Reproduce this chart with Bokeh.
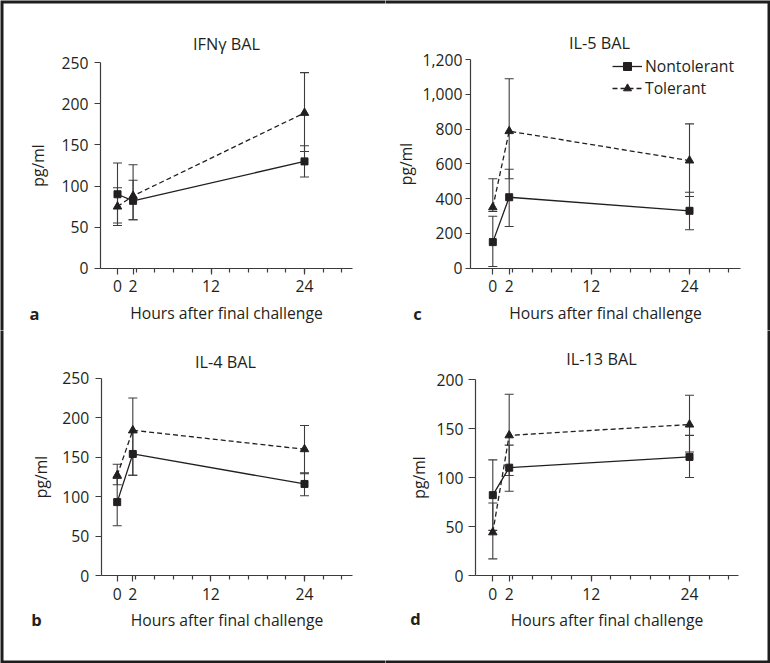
from bokeh.plotting import figure
from bokeh.layouts import gridplot
from bokeh.models import (ColumnDataSource, FixedTicker, Whisker, TeeHead, Label,
                          Legend, LegendItem, NumeralTickFormatter, BoxAnnotation, Range1d)
from bokeh.embed import file_html
from bokeh.resources import INLINE

# ---------------- data ----------------
hours = [0, 2, 24]
x_major_ticks = [0, 2, 12, 24]
x_minor_ticks = [2.4, 4.8, 7.2, 9.6, 12, 14.4, 16.8, 19.2, 21.6, 24, 26.4, 28.8]
x_label = "Hours after final challenge"
y_label = "pg/ml"
series_names = ["Nontolerant", "Tolerant"]

# IFN-gamma BAL (panel a)
ifn_non = [90, 82, 130]
ifn_non_lo = [52, 59, 111]
ifn_non_hi = [128, 107, 149]
ifn_tol = [75, 88, 189]
ifn_tol_lo = [55, 59, 142]
ifn_tol_hi = [98, 126, 238]
ifn_yticks = [0, 50, 100, 150, 200, 250]

# IL-5 BAL (panel c)
il5_non = [150, 408, 330]
il5_non_lo = [10, 240, 221]
il5_non_hi = [299, 569, 437]
il5_tol = [350, 788, 619]
il5_tol_lo = [326, 514, 412]
il5_tol_hi = [514, 1089, 830]
il5_yticks = [0, 200, 400, 600, 800, 1000, 1200]

# IL-4 BAL (panel b)
il4_non = [93, 154, 116]
il4_non_lo = [63, 127, 101]
il4_non_hi = [123, 181, 130]
il4_tol = [127, 184, 160]
il4_tol_lo = [115, 127, 129]
il4_tol_hi = [141, 225, 190]
il4_yticks = [0, 50, 100, 150, 200, 250]

# IL-13 BAL (panel d)
il13_non = [82, 110, 121]
il13_non_lo = [46, 86, 100]
il13_non_hi = [118, 133, 143]
il13_tol = [44, 143, 154]
il13_tol_lo = [17, 102, 126]
il13_tol_hi = [74, 185, 184]
il13_yticks = [0, 50, 100, 150, 200]

# ---------------- styling ----------------
FONT = "Open Sans"
INK = "#231f20"
AXIS = "#3c3c3c"
FS = "15.7px"
BORDER = "#1e1e1e"


def make_panel(title, letter, non, non_lo, non_hi, tol, tol_lo, tol_hi, yticks, geo,
               comma=False, legend=False):
    # geo: canvas size and pixel anchors of the panel (layout only)
    w, h = geo["size"]
    x0px, x24px = geo["x0"], geo["x24"]          # pixel columns of hour 0 and hour 24
    y0px, ytpx = geo["y0"], geo["ytop"]          # pixel rows of value 0 and top tick
    kx = (x24px - x0px) / 24.0
    ky = (y0px - ytpx) / float(yticks[-1])

    def dx(px):
        return (px - x0px) / kx

    def dy(py):
        return (y0px - py) / ky

    xs, xe = dx(0), dx(w)
    ys, ye = dy(h), dy(0)
    p = figure(width=w, height=h, x_range=Range1d(xs, xe), y_range=Range1d(ys, ye),
               output_backend="svg", toolbar_location=None,
               min_border_left=0, min_border_right=0,
               min_border_top=0, min_border_bottom=0)
    p.outline_line_color = None
    p.xgrid.visible = False
    p.ygrid.visible = False
    p.background_fill_color = "white"
    p.border_fill_color = "white"

    yaxis_x = dx(geo["yaxis"])
    xaxis_end = dx(geo["xend"])

    # x axis
    xa = p.xaxis[0]
    xa.fixed_location = 0
    xa.bounds = (yaxis_x, xaxis_end)
    xa.ticker = FixedTicker(ticks=x_major_ticks, minor_ticks=x_minor_ticks)
    xa.major_tick_in = 0
    xa.major_tick_out = 6
    xa.minor_tick_in = 0
    xa.minor_tick_out = 4
    xa.major_label_standoff = 6
    xa.axis_label = x_label
    xa.axis_label_standoff = 6

    # y axis
    ya = p.yaxis[0]
    ya.fixed_location = yaxis_x
    ya.bounds = (yticks[0], yticks[-1])
    ya.ticker = FixedTicker(ticks=yticks)
    ya.major_tick_in = 0
    ya.major_tick_out = geo["ytick"]
    ya.minor_tick_in = 0
    ya.minor_tick_out = 0
    ya.major_label_standoff = geo["ystand"]
    ya.axis_label = y_label
    ya.axis_label_standoff = geo["ylabstand"]
    if comma:
        ya.formatter = NumeralTickFormatter(format="0,0")

    for ax in (xa, ya):
        ax.axis_line_color = AXIS
        ax.axis_line_width = 1.2
        ax.major_tick_line_color = AXIS
        ax.major_tick_line_width = 1.2
        ax.minor_tick_line_color = AXIS
        ax.minor_tick_line_width = 1.2
        ax.major_label_text_font = FONT
        ax.major_label_text_font_size = FS
        ax.major_label_text_color = INK
        ax.axis_label_text_font = FONT
        ax.axis_label_text_font_size = FS
        ax.axis_label_text_font_style = "normal"
        ax.axis_label_text_color = INK

    # panel title and letter
    tx, ty = geo["title"]
    p.add_layout(Label(x=dx(tx), y=dy(ty), text=title, text_font=FONT,
                       text_font_size="16.3px", text_color=INK,
                       text_align="center", text_baseline="middle"))
    lx, ly = geo["letter"]
    p.add_layout(Label(x=dx(lx), y=dy(ly), text=letter, text_font=FONT,
                       text_font_size="16.5px", text_font_style="bold", text_color=INK,
                       text_align="center", text_baseline="middle"))

    # error bars
    for lo, hi in ((non_lo, non_hi), (tol_lo, tol_hi)):
        src = ColumnDataSource(dict(x=hours, lo=lo, hi=hi))
        wk = Whisker(source=src, base="x", lower="lo", upper="hi",
                     line_color=AXIS, line_width=1.1, level="underlay",
                     lower_head=TeeHead(size=9, line_color=AXIS, line_width=1.1),
                     upper_head=TeeHead(size=9, line_color=AXIS, line_width=1.1))
        p.add_layout(wk)

    l1 = p.line(hours, non, line_color=INK, line_width=1.3)
    s1 = p.scatter(hours, non, marker="square", size=7, fill_color=INK, line_color=INK)
    l2 = p.line(hours, tol, line_color=INK, line_width=1.3, line_dash="5 3")
    s2 = p.scatter(hours, tol, marker="triangle", size=8.5, fill_color=INK, line_color=INK)

    if legend:
        gx, gy1 = geo["legend"]
        lg = Legend(items=[LegendItem(label=series_names[0], renderers=[l1, s1]),
                           LegendItem(label=series_names[1], renderers=[l2, s2])],
                    location=(gx, h - (gy1 - 11) - 44), padding=0, margin=0, spacing=0,
                    glyph_width=30, glyph_height=20, label_height=20, label_standoff=3,
                    background_fill_alpha=0, border_line_color=None,
                    label_text_font=FONT, label_text_font_size="15.7px",
                    label_text_color=INK)
        p.add_layout(lg)

    # outer page border (only on the outside edges of the 2x2 block)
    far = 1e5
    sides = geo["border"]
    p.add_layout(BoxAnnotation(
        left=xs if "l" in sides else xs - far,
        right=xe if "r" in sides else xe + far,
        top=ye if "t" in sides else ye + far,
        bottom=ys if "b" in sides else ys - far,
        fill_color=None, line_color=BORDER, line_alpha=1.0, line_width=6,
        level="overlay"))
    return p


geo_a = dict(size=(385, 330), x0=117, x24=304, y0=267.7, ytop=62.3, yaxis=100, xend=352,
             ytick=6, ystand=6, ylabstand=10, title=(226, 43), letter=(34, 313), border="lt")
geo_c = dict(size=(385, 330), x0=107.3, x24=304, y0=267.7, ytop=59, yaxis=85, xend=355,
             ytick=5, ystand=3, ylabstand=3, title=(214, 42), letter=(32, 313), border="tr",
             legend=(227, 65.7))
geo_b = dict(size=(385, 333), x0=116.7, x24=304, y0=245, ytop=47.7, yaxis=100.7, xend=351.7,
             ytick=6, ystand=6, ylabstand=8, title=(225, 31.7), letter=(36, 289), border="lb")
geo_d = dict(size=(385, 333), x0=107.3, x24=304, y0=245, ytop=49, yaxis=90, xend=353,
             ytick=7, ystand=5, ylabstand=4, title=(216, 28.3), letter=(30, 288), border="rb")

pa = make_panel("IFN\u03b3 BAL", "a", ifn_non, ifn_non_lo, ifn_non_hi,
                ifn_tol, ifn_tol_lo, ifn_tol_hi, ifn_yticks, geo_a)
pc = make_panel("IL-5 BAL", "c", il5_non, il5_non_lo, il5_non_hi,
                il5_tol, il5_tol_lo, il5_tol_hi, il5_yticks, geo_c, comma=True, legend=True)
pb = make_panel("IL-4 BAL", "b", il4_non, il4_non_lo, il4_non_hi,
                il4_tol, il4_tol_lo, il4_tol_hi, il4_yticks, geo_b)
pd_ = make_panel("IL-13 BAL", "d", il13_non, il13_non_lo, il13_non_hi,
                 il13_tol, il13_tol_lo, il13_tol_hi, il13_yticks, geo_d)

grid = gridplot([[pa, pc], [pb, pd_]], toolbar_location=None)

open("out.html", "w").write(file_html(grid, INLINE))
